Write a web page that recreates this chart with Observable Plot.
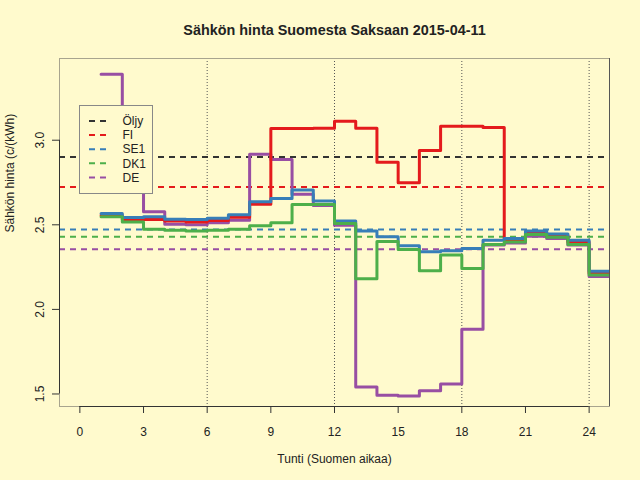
<!DOCTYPE html>
<html>
<head>
<meta charset="utf-8">
<script src="https://cdn.jsdelivr.net/npm/d3@7"></script>
<script src="https://cdn.jsdelivr.net/npm/@observablehq/plot@0.6"></script>
<style>
  html, body { margin: 0; padding: 0; background: #FFFACD; }
  #wrap { position: relative; width: 640px; height: 480px; background: #FFFACD; font-family: "Liberation Sans", Arial, sans-serif; color: #222; overflow: hidden; }
  #title { position: absolute; left: 59px; top: 21px; width: 551px; text-align: center; font-weight: bold; font-size: 14.4px; line-height: 18px; color: #222; white-space: nowrap; }
  #legend { position: absolute; left: 79px; top: 105px; }
  #chart { position: absolute; left: 0; top: 0; }
</style>
</head>
<body>
<div id="wrap">
  <div id="chart"></div>
  <div id="title">Sähkön hinta Suomesta Saksaan 2015-04-11</div>
  <div id="legend"></div>
</div>
<script>
// ---- data ----
const hours = [1,2,3,4,5,6,7,8,9,10,11,12,13,14,15,16,17,18,19,20,21,22,23,24];
const fi  = [2.557,2.532,2.532,2.522,2.517,2.526,2.545,2.622,3.069,3.069,3.071,3.112,3.071,2.870,2.748,2.939,3.083,3.083,3.075,2.413,2.455,2.437,2.399,2.214];
const se1 = [2.567,2.543,2.547,2.533,2.532,2.539,2.559,2.636,2.656,2.705,2.641,2.522,2.463,2.429,2.376,2.340,2.346,2.360,2.408,2.419,2.464,2.445,2.408,2.226];
const dk1 = [2.547,2.517,2.474,2.468,2.464,2.468,2.474,2.494,2.512,2.620,2.620,2.508,2.181,2.402,2.354,2.228,2.321,2.241,2.384,2.399,2.443,2.427,2.384,2.203];
const de  = [3.390,3.150,2.577,2.504,2.500,2.512,2.527,2.917,2.886,2.681,2.614,2.498,1.541,1.492,1.488,1.519,1.559,1.882,2.380,2.392,2.433,2.419,2.380,2.195];
const legendNames = ["Öljy","FI","SE1","DK1","DE"];
const legendColors = ["#333333","#E41A1C","#377EB8","#4DAF4A","#984EA3"];
const refValues = [2.901, 2.724, 2.472, 2.429, 2.356];
const xTicks = [0,3,6,9,12,15,18,21,24];
const gridHours = [6,12,18,24];
const yTicks = [1.5,2.0,2.5,3.0];
const xDomain = [-0.96, 24.96];
const yDomain = [1.426, 3.483];
const xLabel = "Tunti (Suomen aikaa)";
const yLabel = "Sähkön hinta (c/(kWh)";

// ---- build rows (step lines: last value held one more hour) ----
function rows(vals) {
  const r = hours.map((h, i) => ({hour: h, value: vals[i]}));
  r.push({hour: hours[hours.length - 1] + 1, value: vals[vals.length - 1]});
  return r;
}
const seriesOrder = [
  {vals: de,  color: legendColors[4]},
  {vals: fi,  color: legendColors[1]},
  {vals: se1, color: legendColors[2]},
  {vals: dk1, color: legendColors[3]}
];
const refRows = refValues.map((v, i) => ({value: v, color: legendColors[i]}));

const chart = Plot.plot({
  width: 640,
  height: 480,
  marginLeft: 59,
  marginRight: 31,
  marginTop: 58,
  marginBottom: 74,
  x: {domain: xDomain},
  y: {domain: yDomain},
  color: {type: "identity"},
  style: {background: "transparent", fontFamily: "'Liberation Sans', Arial, sans-serif", fontSize: "12px", color: "#222"},
  marks: [
    Plot.ruleX(gridHours, {stroke: "#555", strokeDasharray: "1,2", strokeWidth: 1}),
    Plot.ruleY(refRows, {y: "value", stroke: "color", strokeDasharray: "6,5", strokeWidth: 2}),
    ...seriesOrder.map(s => Plot.line(rows(s.vals), {x: "hour", y: "value", stroke: s.color, strokeWidth: 3, curve: "step-after", clip: true})),
    Plot.frame({stroke: "#a8a48e"}),
    Plot.ruleY([yDomain[0]], {x1: xTicks[0], x2: xTicks[xTicks.length - 1], stroke: "#333"}),
    Plot.ruleX([xDomain[0]], {y1: yTicks[0], y2: yTicks[yTicks.length - 1], stroke: "#333"}),
    Plot.ruleX([xDomain[1]], {stroke: "#555"}),
    Plot.axisX(xTicks, {tickSize: 7, tickPadding: 14, label: null, stroke: "#333", color: "#222"}),
    Plot.axisY(yTicks, {tickSize: 7, tickPadding: 9, tickRotate: -90, tickFormat: d3.format(".1f"), label: null, stroke: "#333", color: "#222"}),
    Plot.text([xLabel], {frameAnchor: "bottom", dy: 56, text: d => d, fill: "#222", fontSize: 12}),
    Plot.text([yLabel], {frameAnchor: "left", dx: -49.5, rotate: -90, text: d => d, fill: "#222", fontSize: 12})
  ]
});
document.getElementById("chart").appendChild(chart);

// ---- legend ----
const lw = 73, lh = 88;
const lsvg = d3.select("#legend").append("svg").attr("width", lw + 1).attr("height", lh + 1);
lsvg.append("rect").attr("x", 0.5).attr("y", 0.5).attr("width", lw).attr("height", lh)
  .attr("fill", "#FFFACD").attr("stroke", "#888");
legendNames.forEach((name, i) => {
  const cy = 16 + i * 14.1;
  lsvg.append("line").attr("x1", 10).attr("x2", 31).attr("y1", cy).attr("y2", cy)
    .attr("stroke", legendColors[i]).attr("stroke-width", 2).attr("stroke-dasharray", "6,5");
  lsvg.append("text").attr("x", 43.5).attr("y", cy).attr("dy", "0.35em")
    .attr("font-family", "'Liberation Sans', Arial, sans-serif").attr("font-size", 12).attr("fill", "#222")
    .text(name);
});
</script>
</body>
</html>
